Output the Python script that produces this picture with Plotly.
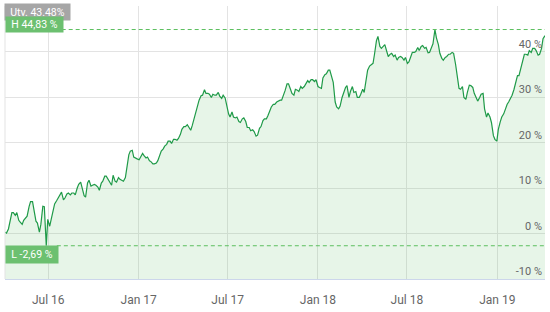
import pandas as pd
import plotly.graph_objects as go

start_date = "2016-04-04"
# Monday readings (weekly)
monday_returns = [
    0.3, 1.0, 4.6, 4.0, 2.9, 2.0, 3.5, 5.9, 7.0, 2.7,
    0.3, 6.0, -2.69, 1.6, 5.5, 7.2, 8.5, 7.4, 8.7, 8.5,
    8.9, 10.0, 11.3, 8.3, 11.1, 10.4, 10.8, 10.2, 11.1, 12.6,
    11.9, 10.6, 11.5, 12.3, 11.7, 12.3, 17.3, 18.3, 16.5, 16.2,
    17.6, 16.6, 16.0, 15.3, 15.5, 17.5, 18.6, 19.6, 20.3, 20.7,
    20.5, 21.8, 23.5, 23.9, 22.7, 25.3, 28.3, 30.3, 31.6, 30.8,
    29.9, 30.4, 31.0, 29.7, 29.8, 26.3, 26.7, 25.4, 24.6, 25.2,
    24.6, 23.3, 22.8, 21.4, 23.1, 24.8, 25.2, 27.1, 28.4, 28.9,
    29.3, 30.4, 32.9, 31.7, 30.4, 31.5, 32.3, 32.3, 33.6, 33.8,
    33.4, 32.3, 31.9, 34.9, 35.9, 34.4, 28.9, 27.4, 29.9, 32.1,
    29.9, 32.3, 31.2, 29.9, 31.7, 33.8, 36.8, 37.4, 42.4, 41.1,
    41.3, 40.0, 39.4, 38.9, 38.1, 38.9, 38.1, 37.4, 38.9, 39.8,
    40.9, 41.1, 40.7, 39.7, 40.9, 44.83, 41.5, 38.5, 38.7, 39.4,
    39.8, 37.2, 31.9, 32.3, 29.5, 32.6, 32.1, 29.9, 29.9, 30.8,
    25.6, 25.6, 21.5, 20.3, 24.6, 26.3, 28.4, 29.7, 31.7, 34.7,
    36.6, 39.4, 39.2, 39.8, 40.7, 39.2, 40.7, 43.48,
]
# Thursday readings (weekly, between the Mondays)
thursday_returns = [
    0.1, 2.7, 4.6, 4.6, 2.5, 2.9, 3.8, 7.0, 5.3, 2.3,
    2.0, 5.9, 3.1, 3.1, 6.5, 7.8, 9.1, 7.8, 8.9, 8.9,
    8.5, 10.8, 9.8, 8.0, 11.7, 10.6, 10.6, 9.5, 11.5, 12.6,
    11.1, 12.8, 11.3, 11.9, 11.5, 14.3, 18.1, 16.8, 16.4, 16.8,
    17.1, 16.8, 15.8, 15.3, 16.0, 18.1, 19.2, 20.3, 19.8, 20.7,
    20.9, 22.9, 23.5, 23.3, 23.7, 26.5, 29.3, 30.4, 30.8, 30.6,
    30.6, 30.4, 30.2, 30.4, 28.2, 25.6, 25.6, 25.6, 24.4, 25.4,
    23.3, 22.6, 22.4, 21.6, 23.5, 25.2, 25.9, 27.8, 28.4, 29.1,
    29.3, 31.4, 32.9, 30.8, 31.7, 31.2, 31.9, 32.9, 33.2, 33.8,
    33.8, 32.1, 34.2, 35.1, 35.9, 33.2, 27.8, 28.0, 30.8, 32.5,
    31.2, 31.0, 29.9, 30.6, 31.0, 35.9, 37.0, 39.4, 43.3, 40.7,
    41.5, 38.9, 39.6, 39.2, 38.7, 38.7, 38.7, 37.7, 39.8, 40.0,
    40.2, 41.3, 40.9, 39.8, 41.7, 43.0, 39.6, 38.1, 38.9, 39.4,
    39.6, 35.3, 31.7, 29.9, 31.0, 32.5, 30.8, 29.1, 30.6, 27.4,
    26.5, 24.4, 20.7, 22.9, 25.6, 27.4, 28.9, 30.4, 33.2, 34.7,
    37.4, 39.4, 40.2, 40.7, 40.2, 39.4, 42.8,
]

mondays = pd.date_range(start_date, periods=len(monday_returns), freq="7D")
thursdays = pd.date_range("2016-04-07", periods=len(thursday_returns), freq="7D")
series = pd.concat([
    pd.Series(monday_returns, index=mondays),
    pd.Series(thursday_returns, index=thursdays),
]).sort_index()
dates = series.index
returns = series.values

y_tickvals = [-10, 0, 10, 20, 30, 40, 50]
y_ticktext = ["-10 %", "0 %", "10 %", "20 %", "30 %", "40 %", ""]
high_value = 44.83
low_value = -2.69
last_text = "Utv. 43.48%"
high_text = "H 44,83 %"
low_text = "L -2,69 %"

y_min, y_max = -10, 50
line_color = "#1f9a48"
fill_color = "rgba(104,190,110,0.16)"
green_box = "#6cc070"
dash_color = "#5cbf5f"
grid_color = "#e3e3e3"

fig = go.Figure()
fig.add_trace(go.Scatter(x=dates, y=[y_min] * len(dates), mode="lines",
                         line=dict(width=0), hoverinfo="skip", showlegend=False))
fig.add_trace(go.Scatter(x=dates, y=returns, mode="lines", fill="tonexty",
                         fillcolor=fill_color,
                         line=dict(color=line_color, width=1.2),
                         showlegend=False))

fig.update_layout(
    width=550, height=312,
    margin=dict(l=5, r=5, t=6, b=26),
    paper_bgcolor="white", plot_bgcolor="white",
    font=dict(family="Roboto", color="#666666"),
    xaxis=dict(
        range=[dates[0], mondays[-1]],
        tickformat="%b %y", dtick="M6", tick0="2016-01-01",
        showgrid=True, gridcolor=grid_color, gridwidth=1,
        showline=True, linecolor="#ccd6eb", linewidth=1,
        ticks="", ticklabelstandoff=10,
        tickfont=dict(size=12, color="#666666"),
        zeroline=False, fixedrange=True,
    ),
    yaxis=dict(
        range=[y_min, y_max], side="right",
        tickvals=y_tickvals, ticktext=y_ticktext,
        ticklabelposition="inside top",
        tickfont=dict(size=11, color="#666666"),
        showgrid=True, gridcolor=grid_color, gridwidth=1,
        zeroline=False, showline=False, ticks="",
    ),
    shapes=[
        dict(type="line", xref="paper", yref="paper", x0=0, x1=0, y0=0, y1=1,
             line=dict(color=grid_color, width=1)),
        dict(type="line", xref="paper", yref="y", x0=0.105, x1=1,
             y0=high_value, y1=high_value,
             line=dict(color=dash_color, width=1, dash="4px,3px")),
        dict(type="line", xref="paper", yref="y", x0=0.096, x1=1,
             y0=low_value, y1=low_value,
             line=dict(color=dash_color, width=1, dash="4px,3px")),
    ],
    annotations=[
        dict(text=last_text, xref="paper", yref="y", x=0, y=48.66,
             xanchor="left", yanchor="middle", xshift=-1, showarrow=False,
             bgcolor="#a6a6a6", font=dict(size=10.5, color="white"),
             width=65, height=16, borderpad=0, align="center"),
        dict(text=high_text, xref="paper", yref="y", x=0, y=45.9,
             xanchor="left", yanchor="middle", showarrow=False,
             bgcolor=green_box, font=dict(size=10.5, color="white"),
             width=57, height=15, borderpad=0, align="center"),
        dict(text=low_text, xref="paper", yref="y", x=0, y=-4.54,
             xanchor="left", yanchor="middle", showarrow=False,
             bgcolor=green_box, font=dict(size=10.5, color="white"),
             width=52, height=17, borderpad=0, align="center"),
    ],
)

fig.write_html("out.html")
